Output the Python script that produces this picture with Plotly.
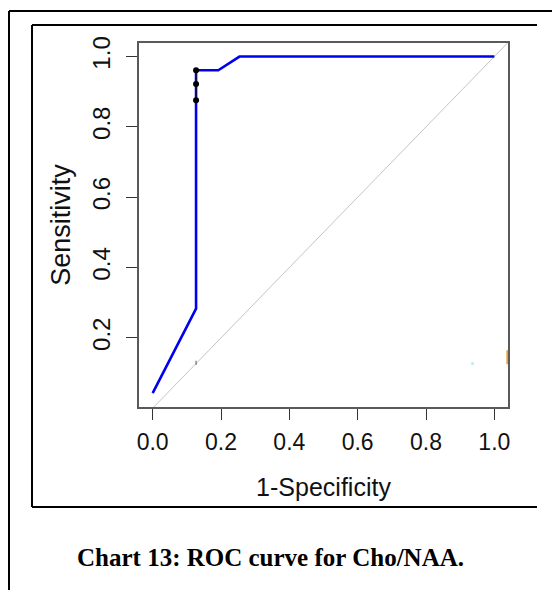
import plotly.graph_objects as go

# ---- data ----
roc_fpr = [0.0, 0.127, 0.127, 0.192, 0.254, 1.0]
roc_sens = [0.043, 0.283, 0.961, 0.961, 1.0, 1.0]
thr_fpr = [0.127, 0.127, 0.127]
thr_sens = [0.961, 0.922, 0.876]
diag_x = [-0.04, 1.04]
diag_y = [-0.04, 1.04]
x_ticks = [0.0, 0.2, 0.4, 0.6, 0.8, 1.0]
x_ticklabels = ["0.0", "0.2", "0.4", "0.6", "0.8", "1.0"]
y_ticks = [0.2, 0.4, 0.6, 0.8, 1.0]
y_ticklabels = ["0.2", "0.4", "0.6", "0.8", "1.0"]
x_range = [-0.04, 1.04]
y_range = [0.0034, 1.0385]
caption = "Chart 13: ROC curve for Cho/NAA."

W, H = 552, 590
L, R, T, B = 139, 508, 43, 407  # plot area in pixels


def px(X):
    return (X - L) / (R - L)


def py(Y):
    return (B - Y) / (B - T)


fig = go.Figure()
fig.add_trace(go.Scatter(x=diag_x, y=diag_y, mode="lines",
                         line=dict(color="#c4c4c4", width=1), hoverinfo="skip"))
fig.add_trace(go.Scatter(x=roc_fpr, y=roc_sens, mode="lines",
                         line=dict(color="#0000ee", width=2.6)))
fig.add_trace(go.Scatter(x=[thr_fpr[0], thr_fpr[-1]], y=[thr_sens[0], thr_sens[-1]],
                         mode="lines", line=dict(color="#111133", width=1.6)))
fig.add_trace(go.Scatter(x=thr_fpr, y=thr_sens, mode="markers",
                         marker=dict(color="black", size=6)))
# small stray marks visible in the reference
fig.add_trace(go.Scatter(x=[0.127], y=[0.129], mode="markers",
                         marker=dict(color="#888888", size=3, symbol="line-ns",
                                     line=dict(color="#555555", width=1))))
fig.add_trace(go.Scatter(x=[0.936], y=[0.127], mode="markers",
                         marker=dict(color="#bfe6f5", size=3)))
fig.add_trace(go.Scatter(x=[1.038], y=[0.145], mode="markers", cliponaxis=False,
                         marker=dict(color="#e8a23a", size=10, symbol="line-ns",
                                     line=dict(color="#e8a23a", width=2))))

axis_common = dict(showgrid=False, zeroline=False, showline=True, mirror=True,
                   linecolor="#5a5a5a", linewidth=1.5, ticks="outside", ticklen=11,
                   tickwidth=1.2, tickcolor="#333333")

fig.update_xaxes(range=x_range, tickvals=x_ticks, ticktext=x_ticklabels,
                 tickfont=dict(family="Liberation Sans", size=23, color="#111"),
                 title=dict(text="1-Specificity", standoff=24,
                            font=dict(family="Liberation Sans", size=25, color="#111")),
                 ticklabelstandoff=3, **axis_common)
fig.update_yaxes(range=y_range, tickvals=y_ticks, ticktext=y_ticklabels, tickangle=-90,
                 tickfont=dict(family="Liberation Sans", size=24, color="#111"),
                 title=dict(text="Sensitivity", standoff=9,
                            font=dict(family="Liberation Sans", size=27, color="#111")),
                 ticklabelstandoff=7, **axis_common)

frame = dict(color="black", width=2)
shapes = [
    # outer frame (left + top)
    dict(type="line", xref="paper", yref="paper", x0=px(9), x1=px(9), y0=py(11), y1=py(600), line=frame),
    dict(type="line", xref="paper", yref="paper", x0=px(9), x1=px(560), y0=py(11), y1=py(11), line=frame),
    # inner frame (left, top, bottom)
    dict(type="line", xref="paper", yref="paper", x0=px(32), x1=px(32), y0=py(25), y1=py(507), line=frame),
    dict(type="line", xref="paper", yref="paper", x0=px(32), x1=px(537), y0=py(25), y1=py(25), line=frame),
    dict(type="line", xref="paper", yref="paper", x0=px(32), x1=px(537), y0=py(507), y1=py(507), line=frame),
]

fig.update_layout(
    width=W, height=H,
    margin=dict(l=L, r=W - R, t=T, b=H - B, pad=0),
    paper_bgcolor="white", plot_bgcolor="white",
    showlegend=False,
    shapes=shapes,
    annotations=[dict(text="<b>" + caption + "</b>", xref="paper", yref="paper",
                      x=px(270), y=py(557), xanchor="center", yanchor="middle",
                      showarrow=False,
                      font=dict(family="Liberation Serif", size=25, color="black"))],
)

fig.write_html("out.html")
